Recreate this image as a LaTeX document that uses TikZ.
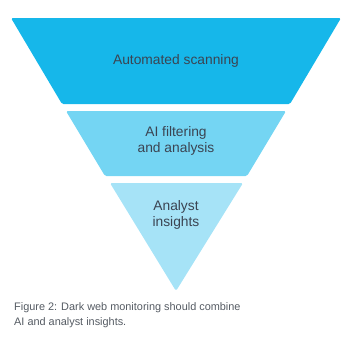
\documentclass[tikz,border=0pt]{standalone}
\usepackage{fontspec}
\setmainfont{Liberation Sans}
\usetikzlibrary{positioning}

\definecolor{tierone}{HTML}{16B7EA}
\definecolor{tiertwo}{HTML}{74D5F3}
\definecolor{tierthree}{HTML}{A6E3F7}
\definecolor{labelgray}{HTML}{3B4452}
\definecolor{captiongray}{HTML}{555B63}

\begin{document}
\begin{tikzpicture}[x=1pt, y=-1pt,
  tier/.style={rounded corners=1.5pt},
  tierlabel/.style={text=labelgray, font=\fontsize{13.8}{16}\selectfont, align=center},
  caption/.style={text=captiongray, font=\fontsize{10.9}{15}\selectfont, align=left, anchor=north west}]
  \useasboundingbox (0,0) rectangle (350,343);

  % Top tier
  \fill[tierone, tier] (11,18) -- (341,18) -- (290,104) -- (62,104) -- cycle;
  \node[tierlabel] (scan) at (176,61) {Automated scanning};

  % Middle tier
  \fill[tiertwo, tier] (66,111) -- (286,111) -- (247,176) -- (105,176) -- cycle;
  \node[tierlabel] (filter) at (176,141) {AI filtering\\and analysis};

  % Bottom tier
  \fill[tierthree, tier] (110,183) -- (243,183) -- (176,291) -- cycle;
  \node[tierlabel] (insight) at (176,215) {Analyst\\insights};

  % Caption
  \node[caption, inner sep=0pt] (cap) at (14,302)
    {Figure 2: Dark web monitoring should combine\\AI and analyst insights.};
\end{tikzpicture}
\end{document}
